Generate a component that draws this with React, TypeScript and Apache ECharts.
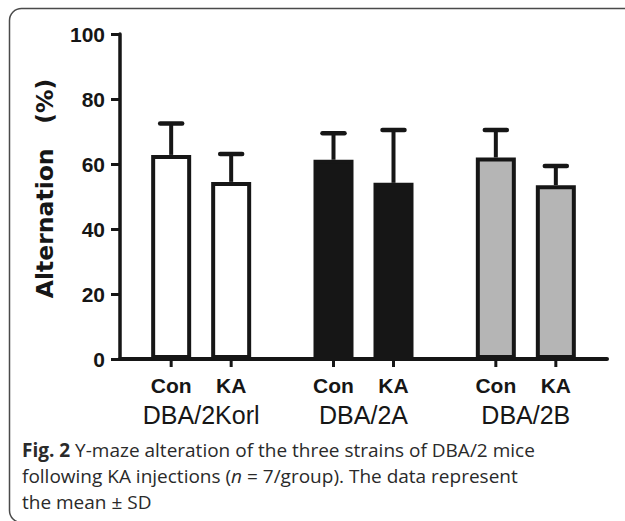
import React, { useEffect, useRef } from 'react';
import * as echarts from 'echarts';

const strains = ['DBA/2Korl', 'DBA/2A', 'DBA/2B'];
const treatments = ['Con', 'KA'];
const conMeans = [62.8, 61.3, 62.0];
const conSD = [9.7, 8.2, 8.5];
const kaMeans = [54.5, 54.2, 53.5];
const kaSD = [8.6, 16.3, 5.9];
const strainFills = ['#ffffff', '#161616', '#b5b5b5'];
const yMin = 0;
const yMax = 100;
const yStep = 20;
const yName = 'Alternation   (%)';
const captionLines = [
  '{b|Fig. 2} Y-maze alteration of the three strains of DBA/2 mice',
  'following KA injections ({i|n} = 7/group). The data represent',
  'the mean ± SD',
];

const INK = '#161616';
const BAR_W = 40;
const BAR_GAP = 0.5;
const BAR_STEP = BAR_W * (1 + BAR_GAP);
const CAP = 11;
const SANS = '"Liberation Sans", Arial, sans-serif';
const CAP_FONT = '"Open Sans", sans-serif';

export default function App() {
  const ref = useRef<HTMLDivElement>(null);
  useEffect(() => {
    if (!ref.current) return;
    const chart = echarts.init(ref.current, null, { renderer: 'svg' });
    const meansBy = [conMeans, kaMeans];
    const sdBy = [conSD, kaSD];
    const errData: number[][] = [];
    strains.forEach((_, i) => {
      treatments.forEach((__, j) => {
        errData.push([i, meansBy[j][i], sdBy[j][i], j]);
      });
    });
    const barSeries = treatments.map((t, j) => ({
      name: t,
      type: 'bar',
      barWidth: BAR_W,
      barGap: `${BAR_GAP * 100}%`,
      itemStyle: { borderColor: INK, borderWidth: 4 },
      data: meansBy[j].map((v, i) => ({ value: v, itemStyle: { color: strainFills[i] } })),
      z: 2,
    }));
    chart.setOption({
      animation: false,
      backgroundColor: '#ffffff',
      grid: { left: 120, right: 18, top: 34, bottom: 162, outerBoundsMode: 'none', containLabel: false },
      xAxis: {
        type: 'category',
        data: strains,
        axisLine: { show: true, lineStyle: { color: INK, width: 4 } },
        axisTick: { show: false },
        axisLabel: {
          interval: 0,
          margin: 13,
          formatter: (val: string) => `${treatments.map((t) => `{t|${t}}`).join('')}\n{s|${val}}`,
          rich: {
            t: { width: BAR_STEP, align: 'center', fontSize: 21, fontWeight: 'bold', fontFamily: SANS, lineHeight: 26, color: INK },
            s: { align: 'center', fontSize: 25, fontFamily: SANS, lineHeight: 34, color: INK },
          },
        },
      },
      yAxis: {
        type: 'value',
        min: yMin,
        max: yMax,
        interval: yStep,
        axisLine: { show: true, lineStyle: { color: INK, width: 3.5 } },
        axisTick: { show: true, length: 9, lineStyle: { color: INK, width: 3 } },
        axisLabel: { margin: 15, fontSize: 21, fontWeight: 'bold', fontFamily: SANS, color: INK },
        splitLine: { show: false },
      },
      series: [
        ...barSeries,
        {
          type: 'custom',
          clip: false,
          z: 3,
          data: errData,
          encode: { x: 0, y: 1 },
          renderItem: (params: any, api: any) => {
            const ci = api.value(0);
            const m = api.value(1);
            const sd = api.value(2);
            const j = api.value(3);
            const base = api.coord([ci, m]);
            const top = api.coord([ci, m + sd]);
            const zero = api.coord([ci, 0]);
            const x = base[0] + (j - (treatments.length - 1) / 2) * BAR_STEP;
            return {
              type: 'group',
              children: [
                { type: 'line', shape: { x1: x, y1: base[1], x2: x, y2: top[1] }, style: { stroke: INK, lineWidth: 4 } },
                { type: 'line', shape: { x1: x - CAP, y1: top[1], x2: x + CAP, y2: top[1] }, style: { stroke: INK, lineWidth: 4.5, lineCap: 'round' } },
                { type: 'line', shape: { x1: x, y1: zero[1], x2: x, y2: zero[1] + 8 }, style: { stroke: INK, lineWidth: 3 } },
              ],
            };
          },
        },
      ],
      graphic: [
        {
          type: 'rect',
          shape: { x: 9.5, y: 8.5, width: 660, height: 514, r: 12 },
          style: { fill: 'none', stroke: '#4a4a4a', lineWidth: 1.5 },
          silent: true,
        },
        {
          type: 'text',
          x: 45,
          y: 188.5,
          rotation: Math.PI / 2,
          style: {
            text: yName,
            font: 'bold 23.5px "DejaVu Sans", sans-serif',
            fill: INK,
            align: 'center',
            verticalAlign: 'middle',
          },
        },
        {
          type: 'text',
          x: 22,
          y: 437,
          style: {
            text: captionLines.join('\n'),
            font: `19px ${CAP_FONT}`,
            fill: '#2a2a2a',
            lineHeight: 26,
            align: 'left',
            verticalAlign: 'top',
            rich: {
              b: { fontWeight: 'bold', fontSize: 19, fontFamily: CAP_FONT, fill: '#2a2a2a', lineHeight: 26 },
              i: { fontStyle: 'italic', fontSize: 19, fontFamily: CAP_FONT, fill: '#2a2a2a', lineHeight: 26 },
            },
          },
        },
      ],
    });
    return () => chart.dispose();
  }, []);
  return <div ref={ref} style={{ position: 'fixed', left: 0, top: 0, width: 625, height: 521 }} />;
}
